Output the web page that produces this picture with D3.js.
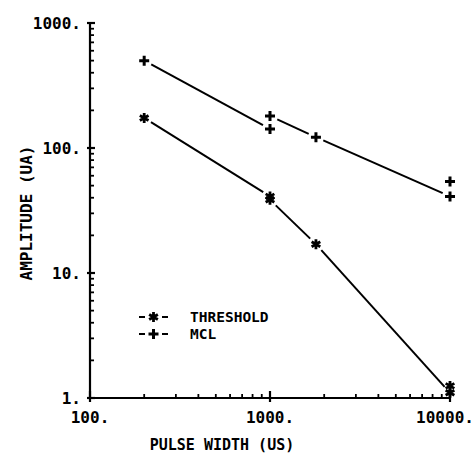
<!DOCTYPE html>
<html><head><meta charset="utf-8">
<script src="https://cdn.jsdelivr.net/npm/d3@7"></script>
<style>body{margin:0;background:#fff}svg{display:block}text{font-family:"DejaVu Sans Mono",monospace;font-weight:bold;fill:#000}</style>
</head><body>
<svg id="c" width="475" height="454"></svg>
<script>
// data
const mclX = [200, 1000, 1000, 1800, 10000, 10000];
const mclY = [500, 142, 180, 122, 41, 54];
const thrX = [200, 1000, 1000, 1800, 10000, 10000];
const thrY = [174, 41, 38.5, 17, 1.1, 1.25];
const xMajor = [100, 1000, 10000];
const xMajorLabels = ["100.", "1000.", "10000."];
const yMajor = [1, 10, 100, 1000];
const yMajorLabels = ["1.", "10.", "100.", "1000."];
const legendLabels = ["THRESHOLD", "MCL"];

const svg = d3.select("#c");
const x = d3.scaleLog().domain([100, 10000]).range([90, 450]);
const y = d3.scaleLog().domain([1, 1000]).range([398, 23]);

const minor = (lo, hi) => { const a = []; for (let d = lo; d < hi; d *= 10) for (let k = 2; k <= 9; k++) a.push(d * k); return a; };

const g = svg.append("g").attr("stroke", "#000").attr("fill", "none");
// axes lines
g.append("line").attr("x1", x(100)).attr("x2", x(100)).attr("y1", y(1000)).attr("y2", y(1)).attr("stroke-width", 2.2);
g.append("line").attr("x1", x(100)).attr("x2", x(10000)).attr("y1", y(1)).attr("y2", y(1)).attr("stroke-width", 2.2);
// y ticks
minor(1, 1000).forEach(v => g.append("line").attr("x1", x(100)).attr("x2", x(100) + 4).attr("y1", y(v)).attr("y2", y(v)).attr("stroke-width", 1.8));
yMajor.forEach(v => g.append("line").attr("x1", x(100) - 3).attr("x2", x(100) + 5).attr("y1", y(v)).attr("y2", y(v)).attr("stroke-width", 2.2));
// x ticks
minor(100, 10000).forEach(v => g.append("line").attr("x1", x(v)).attr("x2", x(v)).attr("y1", y(1)).attr("y2", y(1) - 4).attr("stroke-width", 1.8));
xMajor.forEach(v => g.append("line").attr("x1", x(v)).attr("x2", x(v)).attr("y1", y(1) + 4).attr("y2", y(1) - 7).attr("stroke-width", 2.2));

// labels
svg.selectAll(".yl").data(yMajor).enter().append("text").attr("x", 81).attr("y", d => y(d)).attr("dy", "0.36em")
  .attr("text-anchor", "end").attr("font-size", 16).text((d, i) => yMajorLabels[i]);
svg.selectAll(".xl").data(xMajor).enter().append("text").attr("x", d => Math.min(x(d), 474 - 29)).attr("y", 423)
  .attr("text-anchor", "middle").attr("font-size", 16).text((d, i) => xMajorLabels[i]);
svg.append("text").attr("x", 222).attr("y", 450).attr("text-anchor", "middle").attr("font-size", 15).text("PULSE WIDTH (US)");
svg.append("text").attr("transform", "translate(32,213) rotate(-90)").attr("text-anchor", "middle").attr("font-size", 16).text("AMPLITUDE (UA)");

// markers
function plus(sel, px, py, s) {
  sel.append("path").attr("d", `M${px - s},${py}H${px + s}M${px},${py - s}V${py + s}`).attr("stroke", "#000").attr("stroke-width", 3).attr("fill", "none");
}
function star(sel, px, py, s) {
  const dx = s * 0.87, dy = s * 0.5;
  sel.append("path").attr("d", `M${px},${py - s}V${py + s}M${px - dx},${py - dy}L${px + dx},${py + dy}M${px - dx},${py + dy}L${px + dx},${py - dy}`)
    .attr("stroke", "#000").attr("stroke-width", 2.8).attr("fill", "none");
}
// gapped polyline
function gappedLine(xs, ys, gap) {
  for (let i = 0; i < xs.length - 1; i++) {
    const x1 = x(xs[i]), y1 = y(ys[i]), x2 = x(xs[i + 1]), y2 = y(ys[i + 1]);
    const L = Math.hypot(x2 - x1, y2 - y1);
    if (L <= 2 * gap + 1) continue;
    const ux = (x2 - x1) / L, uy = (y2 - y1) / L;
    g.append("line").attr("x1", x1 + ux * gap).attr("y1", y1 + uy * gap).attr("x2", x2 - ux * gap).attr("y2", y2 - uy * gap).attr("stroke-width", 2);
  }
}
gappedLine(mclX, mclY, 8);
gappedLine(thrX, thrY, 8);
mclX.forEach((v, i) => plus(svg, x(v), y(mclY[i]), 5));
thrX.forEach((v, i) => star(svg, x(v), y(thrY[i]), 5));

// legend
const lg = svg.append("g");
[0, 1].forEach(i => {
  const ly = 317 + i * 17;
  lg.append("line").attr("x1", 139).attr("x2", 145).attr("y1", ly).attr("y2", ly).attr("stroke", "#000").attr("stroke-width", 2);
  lg.append("line").attr("x1", 162).attr("x2", 168).attr("y1", ly).attr("y2", ly).attr("stroke", "#000").attr("stroke-width", 2);
  if (i === 0) star(lg, 153.5, ly, 5); else plus(lg, 153.5, ly, 5);
  lg.append("text").attr("x", 190).attr("y", ly).attr("dy", "0.36em").attr("font-size", 14.5).text(legendLabels[i]);
});
</script>
</body></html>
